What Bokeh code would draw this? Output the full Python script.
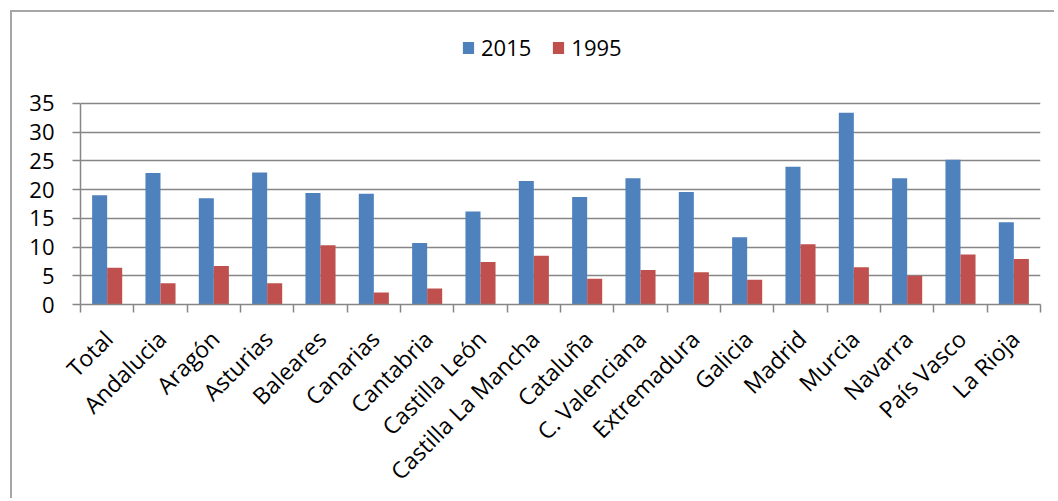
import math
from bokeh.plotting import figure
from bokeh.models import (Range1d, FixedTicker, ColumnDataSource, Legend, LegendItem)
from bokeh.transform import dodge
from bokeh.embed import file_html
from bokeh.resources import INLINE

categories = ["Total", "Andalucia", "Aragón", "Asturias", "Baleares", "Canarias",
              "Cantabria", "Castilla León", "Castilla La Mancha", "Cataluña",
              "C. Valenciana", "Extremadura", "Galicia", "Madrid", "Murcia",
              "Navarra", "País Vasco", "La Rioja"]
v2015 = [19.0, 22.9, 18.5, 23.0, 19.4, 19.3, 10.7, 16.2, 21.5, 18.7,
         22.0, 19.6, 11.7, 24.0, 33.4, 22.0, 25.2, 14.3]
v1995 = [6.4, 3.7, 6.7, 3.7, 10.3, 2.1, 2.8, 7.4, 8.5, 4.5,
         6.0, 5.6, 4.3, 10.5, 6.5, 5.0, 8.7, 7.9]
series_names = ["2015", "1995"]
y_ticks = [0, 5, 10, 15, 20, 25, 30, 35]

BLUE = "#4F81BD"
RED = "#C0504D"
GRID = "#868686"
FONT = "Open Sans"

n = len(categories)
centers = [i + 0.5 for i in range(n)]
src = ColumnDataSource(dict(x=centers, a=v2015, b=v1995))

# frame extends above the 35 line to host the legend (axis/grid bounded at 35)
Y_TOP = 47.7
W, H = 1044, 488
p = figure(width=W, height=H, output_backend="svg", toolbar_location=None,
           x_range=Range1d(0, n), y_range=Range1d(0, Y_TOP),
           min_border_left=68, min_border_right=W + 12 - 1040, min_border_top=18,
           min_border_bottom=12 + H - 308, background_fill_color="white",
           border_fill_color="white")
p.outline_line_color = None
p.styles = {"border-left": "2px solid #a6a6a6", "border-top": "2px solid #a6a6a6",
            "margin-left": "10px", "margin-top": "10px"}

bw = 0.282
r1 = p.vbar(x=dodge("x", -bw / 2, range=p.x_range), top="a", width=bw, source=src,
            fill_color=BLUE, line_color=None)
r2 = p.vbar(x=dodge("x", bw / 2, range=p.x_range), top="b", width=bw, source=src,
            fill_color=RED, line_color=None)

# x axis: labels (major) at category centres, tick marks (minor) at boundaries
LABEL_SHIFT = 0.02
label_pos = [c + LABEL_SHIFT for c in centers]
xa = p.xaxis[0]
xa.ticker = FixedTicker(ticks=label_pos, minor_ticks=list(range(n + 1)))
xa.major_label_overrides = {c: lab for c, lab in zip(label_pos, categories)}
xa.major_label_orientation = math.pi / 4
xa.major_tick_in = 0
xa.major_tick_out = 0
xa.minor_tick_in = 0
xa.minor_tick_out = 8
xa.minor_tick_line_color = GRID
xa.minor_tick_line_width = 1.5
xa.axis_line_color = GRID
xa.axis_line_width = 1.5
xa.major_label_text_font = FONT
xa.major_label_text_font_size = "23px"
xa.major_label_text_color = "black"
xa.major_label_standoff = 22

# y axis
ya = p.yaxis[0]
ya.ticker = FixedTicker(ticks=y_ticks)
ya.bounds = (0, 35)
ya.major_tick_in = 0
ya.major_tick_out = 8
ya.major_tick_line_color = GRID
ya.major_tick_line_width = 1.5
ya.minor_tick_line_color = None
ya.axis_line_color = GRID
ya.axis_line_width = 1.5
ya.major_label_text_font = FONT
ya.major_label_text_font_size = "22px"
ya.major_label_text_color = "black"
ya.major_label_standoff = 18

p.xgrid.grid_line_color = None
p.ygrid.ticker = FixedTicker(ticks=y_ticks)
p.ygrid.grid_line_color = GRID
p.ygrid.grid_line_width = 1.5

legend = Legend(items=[LegendItem(label=series_names[0], renderers=[r1]),
                       LegendItem(label=series_names[1], renderers=[r2])],
                orientation="horizontal", location=(381, 242),
                border_line_color=None, background_fill_alpha=0,
                padding=0, margin=0, spacing=20, label_standoff=6,
                glyph_width=14, glyph_height=15, label_height=15,
                label_text_font=FONT, label_text_font_size="22px",
                label_text_color="black")
p.add_layout(legend, "center")

open("out.html", "w").write(file_html(p, INLINE))
